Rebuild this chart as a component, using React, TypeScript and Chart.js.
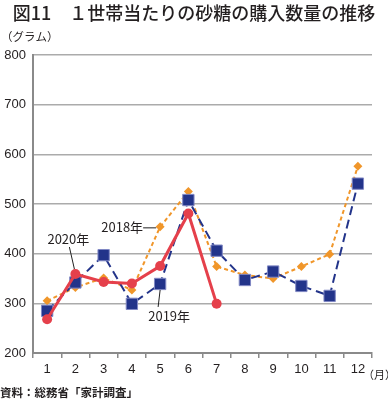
import React, { useEffect, useRef } from 'react';
import { Chart, registerables } from 'chart.js';
Chart.register(...registerables);

const months = ['1', '2', '3', '4', '5', '6', '7', '8', '9', '10', '11', '12'];
const sugar2018 = [305, 332, 351, 327, 454, 525, 374, 357, 350, 374, 399, 576];
const sugar2019 = [285, 342, 397, 299, 339, 508, 406, 347, 364, 335, 315, 541];
const sugar2020 = [268, 359, 343, 340, 375, 481, 299, null, null, null, null, null];
const yMin = 200;
const yMax = 800;
const yStep = 100;

const titleText = '図11　１世帯当たりの砂糖の購入数量の推移';
const unitText = '（グラム）';
const monthUnit = '（月）';
const sourceText = '資料：総務省「家計調査」';

const JP = '"Noto Sans CJK JP", "Noto Sans", sans-serif';
const NUM = '"Liberation Sans", Arial, sans-serif';

const textPlugin = {
  id: 'texts',
  afterDraw(chart: any) {
    const ctx = chart.ctx;
    ctx.save();
    ctx.fillStyle = '#231f20';
    ctx.textBaseline = 'middle';
    ctx.font = `500 18px ${JP}`;
    ctx.textAlign = 'center';
    ctx.fillText(titleText, 194, 13);
    ctx.font = `11.5px ${JP}`;
    ctx.textAlign = 'left';
    ctx.fillText(unitText, 1, 37);
    ctx.font = `11px ${JP}`;
    ctx.fillText(monthUnit, 363, 375);
    ctx.font = `bold 11.5px ${JP}`;
    ctx.fillText(sourceText, 0, 393);

    // annotations
    const m18 = chart.getDatasetMeta(2).data[4];
    const m19 = chart.getDatasetMeta(1).data[4];
    const m20 = chart.getDatasetMeta(0).data[1];
    ctx.font = `13px ${JP}`;
    ctx.strokeStyle = '#222';
    ctx.lineWidth = 1;
    // 2018
    ctx.textAlign = 'right';
    ctx.fillText('2018年', m18.x - 17, m18.y);
    ctx.beginPath();
    ctx.moveTo(m18.x - 17, m18.y + 1);
    ctx.lineTo(m18.x - 4, m18.y + 1);
    ctx.stroke();
    // 2020
    ctx.textAlign = 'center';
    ctx.fillText('2020年', m20.x - 7, m20.y - 35);
    ctx.beginPath();
    ctx.moveTo(m20.x - 6, m20.y - 27);
    ctx.lineTo(m20.x - 1, m20.y - 5);
    ctx.stroke();
    // 2019
    ctx.fillText('2019年', m19.x + 9, m19.y + 32);
    ctx.beginPath();
    ctx.moveTo(m19.x - 2, m19.y + 23);
    ctx.lineTo(m19.x, m19.y + 6);
    ctx.stroke();
    ctx.restore();
  },
};

export default function App() {
  const ref = useRef<HTMLCanvasElement>(null);
  useEffect(() => {
    if (!ref.current) return;
    const chart = new Chart(ref.current, {
      type: 'line',
      data: {
        labels: months,
        datasets: [
          {
            label: '2020年',
            data: sugar2020,
            borderColor: '#e5404b',
            backgroundColor: '#e5404b',
            borderWidth: 3,
            pointStyle: 'circle',
            pointRadius: 5,
            pointBorderWidth: 0,
            order: 0,
            spanGaps: false,
          },
          {
            label: '2019年',
            data: sugar2019,
            borderColor: '#23348a',
            backgroundColor: '#23348a',
            borderWidth: 2,
            borderDash: [9, 5],
            pointStyle: 'rect',
            pointRadius: 8,
            pointBorderColor: '#8088c4',
            pointBorderWidth: 1,
            order: 1,
          },
          {
            label: '2018年',
            data: sugar2018,
            borderColor: '#f0962a',
            backgroundColor: '#f0962a',
            borderWidth: 2,
            borderDash: [4, 3],
            pointStyle: 'rectRot',
            pointRadius: 4.5,
            pointBorderWidth: 0,
            order: 2,
          },
        ],
      },
      options: {
        responsive: false,
        animation: false,
        layout: { padding: { left: 0, top: 55, right: 16, bottom: 0 } },
        plugins: { legend: { display: false }, tooltip: { enabled: false }, title: { display: false } },
        scales: {
          x: {
            type: 'category',
            offset: true,
            afterFit: (s: any) => { s.height = 48; },
            border: { color: '#8a8a8a', width: 2 },
            grid: { offset: true, drawOnChartArea: false, drawTicks: true, tickLength: 5, color: '#8a8a8a', lineWidth: 1.5 },
            ticks: { color: '#231f20', font: { family: NUM, size: 13 }, padding: 4, maxRotation: 0, autoSkip: false },
          },
          y: {
            min: yMin,
            max: yMax,
            afterFit: (s: any) => { s.width = 33; },
            border: { color: '#8a8a8a', width: 2 },
            grid: { drawTicks: false, color: '#ababab', lineWidth: 1.5 },
            ticks: { stepSize: yStep, color: '#231f20', font: { family: NUM, size: 13 }, padding: 7 },
          },
        },
      },
      plugins: [textPlugin],
    });
    return () => chart.destroy();
  }, []);
  return (
    <div style={{ position: 'absolute', left: 0, top: 0, width: 388, height: 401, background: '#fff' }}>
      <canvas ref={ref} width={388} height={401} style={{ display: 'block' }} />
    </div>
  );
}
